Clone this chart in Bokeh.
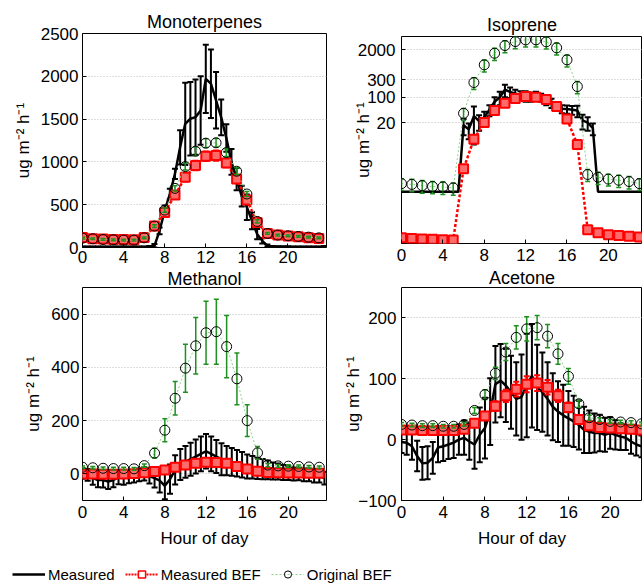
import numpy as np
from bokeh.plotting import figure
from bokeh.models import Range1d, FixedTicker, PrintfTickFormatter, Legend, LegendItem
from bokeh.layouts import column, row
from bokeh.embed import file_html
from bokeh.resources import INLINE

# ---------------- data ----------------
hours = [0, 1, 2, 3, 4, 5, 6, 7, 8, 9, 10, 11, 12, 13, 14, 15, 16, 17, 18, 19, 20, 21, 22, 23]
half_hours = [0, 0.5, 1, 1.5, 2, 2.5, 3, 3.5, 4, 4.5, 5, 5.5, 6, 6.5, 7, 7.5, 8, 8.5, 9, 9.5,
              10, 10.5, 11, 11.5, 12, 12.5, 13, 13.5, 14, 14.5, 15, 15.5, 16, 16.5, 17, 17.5,
              18, 18.5, 19, 19.5, 20, 20.5, 21, 21.5, 22, 22.5, 23, 23.5]
x_ticks = [0, 4, 8, 12, 16, 20]

# Monoterpenes
mono_orig = [109, 102, 94, 90, 86, 86, 113, 250, 437, 691, 945, 1125, 1219, 1223, 1109, 891, 625, 305, 164, 145, 137, 129, 121, 113]
mono_orig_err = [10, 10, 10, 10, 10, 10, 10, 15, 25, 30, 40, 50, 50, 50, 45, 40, 30, 20, 10, 10, 10, 10, 10, 10]
mono_bef = [117, 102, 98, 94, 94, 90, 117, 250, 410, 613, 820, 957, 1066, 1074, 988, 800, 555, 293, 164, 145, 133, 125, 113, 105]
mono_bef_err = [15, 15, 15, 15, 15, 15, 15, 20, 30, 35, 45, 55, 55, 60, 50, 45, 35, 25, 15, 15, 15, 15, 15, 15]
mono_meas = [5, 5, 5, 5, 5, 5, 5, 5, 5, 5, 5, 5, 5, 8, 20, 195, 430, 625, 860, 1170,
             1445, 1504, 1523, 1600, 1970, 1914, 1719, 1520, 1280, 1000, 800, 600, 470, 312, 156, 78,
             20, 10, 8, 6, 6, 5, 5, 5, 5, 5, 5, 10]
mono_meas_err = [8, 8, 8, 8, 8, 8, 8, 8, 8, 8, 8, 8, 8, 10, 20, 40, 60, 60, 60, 200,
                 480, 430, 440, 400, 400, 400, 330, 210, 160, 150, 130, 120, 150, 100, 60, 30,
                 15, 8, 8, 8, 8, 8, 8, 8, 8, 8, 8, 8]
mono_yticks = [0, 500, 1000, 1500, 2000, 2500]

# Isoprene
iso_orig = [0.42, 0.40, 0.37, 0.35, 0.34, 0.32, 36, 253, 774, 1614, 2625, 3380, 3765, 3765, 3320, 2270, 1062, 196, 0.75, 0.63, 0.56, 0.52, 0.48, 0.42]
iso_orig_err = [0.15, 0.15, 0.14, 0.13, 0.13, 0.12, 13, 90, 280, 590, 950, 1240, 1380, 1380, 1220, 830, 390, 72, 0.27, 0.23, 0.2, 0.19, 0.18, 0.15]
iso_bef = [0.0137, 0.0131, 0.0126, 0.0124, 0.0121, 0.0118, 1.08, 7.0, 20, 43, 68, 92, 104, 100, 86, 55, 25, 5.0, 0.0227, 0.0187, 0.0166, 0.0157, 0.015, 0.0143]
iso_bef_err = [0.001, 0.001, 0.001, 0.001, 0.001, 0.001, 0.1, 1, 3, 6, 9, 12, 14, 14, 12, 8, 4, 0.7, 0.002, 0.002, 0.002, 0.002, 0.002, 0.002]
iso_meas = [0.25, 0.25, 0.25, 0.25, 0.25, 0.25, 0.25, 0.25, 0.25, 0.25, 0.25, 0.25,
            17, 13, 30, 22, 28, 45, 75, 100, 160, 140, 125, 115, 110, 105, 110, 100, 85, 70,
            58, 48, 47, 45, 43, 23, 20, 14,
            0.25, 0.25, 0.25, 0.25, 0.25, 0.25, 0.25, 0.25, 0.25, 0.25]
iso_meas_err = [0, 0, 0, 0, 0, 0, 0, 0, 0, 0, 0, 0,
                8, 6, 25, 10, 12, 15, 25, 40, 60, 45, 35, 30, 35, 30, 30, 25, 25, 20,
                15, 12, 12, 12, 15, 10, 8, 5,
                0, 0, 0, 0, 0, 0, 0, 0, 0, 0]
iso_yticks = [20, 100, 300, 2000]

# Methanol
meth_orig = [25, 23, 21, 20, 20, 19, 31, 78, 164, 284, 397, 481, 530, 534, 478, 357, 200, 79, 33, 30, 29, 28, 26, 25]
meth_orig_err = [5, 5, 5, 5, 5, 5, 6, 18, 43, 63, 90, 106, 118, 122, 117, 97, 60, 24, 6, 5, 5, 5, 5, 5]
meth_bef = [0, 0, -1, -1, 0, 1, 4, 9, 15, 25, 33, 40, 44, 43, 40, 28, 18, 10, 5, 4, 3, 3, 2, 2]
meth_bef_err = [4, 4, 4, 4, 4, 4, 4, 5, 6, 7, 8, 9, 10, 10, 9, 8, 6, 5, 4, 4, 4, 4, 4, 4]
meth_meas = [2, -4, -16, -23, -23, -29, -23, -13, -16, -10, -8, -4, 0, -8, -16, -25, -45, -20, 15, 35,
             45, 55, 65, 75, 85, 75, 65, 55, 50, 45, 40, 34, 28, 25, 21, 18, 15, 11, 9, 5,
             3, 0, 0, -4, -4, -8, -8, -16]
meth_meas_err = [20, 22, 25, 27, 28, 28, 27, 26, 25, 25, 24, 24, 25, 28, 35, 45, 50, 55, 55, 58,
                 60, 62, 64, 65, 65, 65, 62, 60, 55, 52, 50, 48, 45, 42, 40, 38, 35, 32, 30, 28,
                 26, 25, 24, 24, 24, 24, 24, 24]
meth_yticks = [0, 200, 400, 600]

# Acetone
acet_orig = [25, 24, 23, 23, 22, 22, 25, 48, 74, 109, 144, 168, 182, 184, 170, 141, 104, 59, 36, 33, 30, 29, 28, 26]
acet_orig_err = [3, 3, 3, 3, 3, 3, 3, 5, 8, 10, 14, 19, 20, 20, 19, 17, 13, 6, 4, 3, 3, 3, 3, 3]
acet_bef = [16, 16, 15, 15, 15, 15, 17, 27, 39, 55, 72, 83, 91, 93, 86, 72, 53, 33, 23, 20, 19, 18, 17, 16]
acet_bef_err = [4, 4, 4, 4, 4, 4, 4, 5, 6, 8, 10, 12, 13, 13, 12, 10, 8, 6, 4, 4, 4, 4, 4, 4]
acet_meas = [-4, -5, -11, -27, -39, -38, -30, -13, -11, -8, -5, 0, 3, -3, -8, 8, 19, 46, 91, 97,
             89, 78, 67, 70, 89, 105, 86, 78, 67, 54, 46, 40, 35, 30, 24, 16, 13, 11, 11, 8,
             11, 8, 5, 3, -3, -8, -11, -13]
acet_meas_err = [18, 20, 22, 25, 27, 27, 26, 24, 24, 24, 25, 25, 28, 30, 40, 45, 50, 55, 63, 60,
                 60, 60, 60, 70, 85, 85, 70, 65, 60, 55, 50, 50, 45, 42, 40, 38, 35, 32, 30, 28,
                 26, 24, 22, 20, 20, 18, 18, 18]
acet_yticks = [-100, 0, 100, 200]

ylabel = "ug m\u207b\u00b2 h\u207b\u00b9"

# ---------------- style ----------------
FONT = "Liberation Sans"
GREEN_LINE = "#8fd18f"
GREEN_BAR = "#1f8f1f"
RED = "#ff0000"
RED_FILL = "#ff6b6b"


def make_fig(title, width, height, xmax, yr, yticks, mb, ylog=False,
             xstand=3, ystand=4, ylab_stand=5, title_stand=3, xlabel=None, xlab_stand=7):
    kw = dict(width=width, height=height, x_range=Range1d(0, xmax), y_range=Range1d(*yr),
              output_backend="svg", toolbar_location=None, title=title,
              min_border_left=mb[0], min_border_right=mb[1], min_border_top=mb[2], min_border_bottom=mb[3])
    if ylog:
        kw["y_axis_type"] = "log"
    p = figure(**kw)
    p.title.text_font = FONT
    p.title.text_font_size = "18px"
    p.title.text_font_style = "normal"
    p.title.text_color = "black"
    p.title.align = "center"
    p.title.standoff = title_stand
    p.outline_line_color = "black"
    p.outline_line_alpha = 1.0
    p.outline_line_width = 1
    p.background_fill_color = "white"
    p.border_fill_color = "white"
    for ax in list(p.xaxis) + list(p.yaxis):
        ax.major_label_text_font = FONT
        ax.major_label_text_font_size = "17px"
        ax.major_label_text_color = "black"
        ax.axis_line_color = None
        ax.major_tick_in = 4
        ax.major_tick_out = 0
        ax.major_tick_line_color = "black"
        ax.minor_tick_line_color = None
        ax.axis_label_text_font = FONT
        ax.axis_label_text_font_size = "17px"
        ax.axis_label_text_font_style = "normal"
        ax.axis_label_text_color = "black"
    p.xaxis.ticker = FixedTicker(ticks=x_ticks)
    p.yaxis.ticker = FixedTicker(ticks=yticks)
    if ylog:
        p.yaxis.formatter = PrintfTickFormatter(format="%d")
    p.xaxis.major_label_standoff = xstand
    p.yaxis.major_label_standoff = ystand
    p.xgrid.visible = False
    p.ygrid.ticker = FixedTicker(ticks=yticks)
    p.ygrid.grid_line_color = "#bdbdbd"
    p.ygrid.grid_line_dash = "1 2"
    p.ygrid.grid_line_width = 1
    p.yaxis.axis_label = ylabel
    p.yaxis.axis_label_standoff = ylab_stand
    if xlabel:
        p.xaxis.axis_label = xlabel
        p.xaxis.axis_label_standoff = xlab_stand
    return p


def errbars(p, x, y, e, color, lw, cap):
    x = np.asarray(x, float)
    y = np.asarray(y, float)
    e = np.asarray(e, float)
    m = e > 0
    x, y, e = x[m], y[m], e[m]
    lo, hi = y - e, y + e
    p.segment(x0=x, y0=lo, x1=x, y1=hi, line_color=color, line_width=lw)
    p.scatter(x=np.concatenate([x, x]), y=np.concatenate([lo, hi]), marker="dash",
              size=cap, line_color=color, line_width=lw)


def draw(p, orig, orig_err, bef, bef_err, meas, meas_err):
    # Measured (half-hourly)
    errbars(p, half_hours, meas, meas_err, "black", 2, 6)
    p.line(half_hours, meas, line_color="black", line_width=2.5)
    # Measured BEF
    errbars(p, hours, bef, bef_err, RED, 2, 6)
    p.line(hours, bef, line_color=RED, line_width=2.5, line_dash="3 2")
    p.scatter(hours, bef, marker="square", size=9, fill_color=RED_FILL,
              line_color=RED, line_width=2)
    # Original BEF
    p.line(hours, orig, line_color=GREEN_LINE, line_width=1, line_dash="2 2")
    errbars(p, hours, orig, orig_err, GREEN_BAR, 1.5, 5)
    p.scatter(hours, orig, marker="circle", size=10, fill_color=None,
              line_color="black", line_width=1)


# panels; min borders given as (left, right, top, bottom)
p1 = make_fig("Monoterpenes", 338, 268, 23.75, (0, 2500), mono_yticks, (82, 11, 33, 21),
              xstand=3, ystand=4, ylab_stand=5, title_stand=4)
draw(p1, mono_orig, mono_orig_err, mono_bef, mono_bef_err, mono_meas, mono_meas_err)

p2 = make_fig("Isoprene", 304, 266, 23.3, (0.0095, 4650), iso_yticks, (61, 0, 36, 23), ylog=True,
              xstand=5, ystand=6, ylab_stand=-18, title_stand=3)
draw(p2, iso_orig, iso_orig_err, iso_bef, iso_bef_err, iso_meas, iso_meas_err)

p3 = make_fig("Methanol", 338, 296, 23.7, (-100, 700), meth_yticks, (80, 12, 17, 64),
              xstand=5, ystand=3, ylab_stand=5, title_stand=-3, xlabel="Hour of day", xlab_stand=8)
draw(p3, meth_orig, meth_orig_err, meth_bef, meth_bef_err, meth_meas, meth_meas_err)

p4 = make_fig("Acetone", 304, 298, 23.1, (-100, 250), acet_yticks, (63, 0, 18, 64),
              xstand=5, ystand=5, ylab_stand=-8, title_stand=-1, xlabel="Hour of day", xlab_stand=8)
draw(p4, acet_orig, acet_orig_err, acet_bef, acet_bef_err, acet_meas, acet_meas_err)

# legend strip
leg = figure(width=642, height=20, x_range=Range1d(0, 1), y_range=Range1d(0, 1),
             output_backend="svg", toolbar_location=None, min_border=0,
             x_axis_location=None, y_axis_location=None)
leg.outline_line_color = None
leg.grid.visible = False
r1 = leg.line([-5, -4], [-5, -5], line_color="black", line_width=2.5)
r2a = leg.line([-5, -4], [-5, -5], line_color=RED, line_width=2, line_dash="2 1")
r2b = leg.scatter([-5], [-5], marker="square", size=7, fill_color="white", line_color=RED, line_width=1.5)
r3a = leg.line([-5, -4], [-5, -5], line_color=GREEN_LINE, line_width=1, line_dash="2 2")
r3b = leg.scatter([-5], [-5], marker="circle", size=6, fill_color=None, line_color="black", line_width=1)
legend = Legend(items=[LegendItem(label="Measured", renderers=[r1]),
                       LegendItem(label="Measured BEF", renderers=[r2a, r2b]),
                       LegendItem(label="Original BEF", renderers=[r3a, r3b])],
                orientation="horizontal", location=(12, 1), padding=0, margin=0, spacing=10,
                glyph_width=33, glyph_height=18, label_standoff=3,
                label_text_font=FONT, label_text_font_size="15px", label_text_color="black",
                border_line_color=None, background_fill_alpha=0)
leg.add_layout(legend)

layout = column(row(column(p1, p3), column(p2, p4)), leg)

open("out.html", "w").write(file_html(layout, INLINE))
